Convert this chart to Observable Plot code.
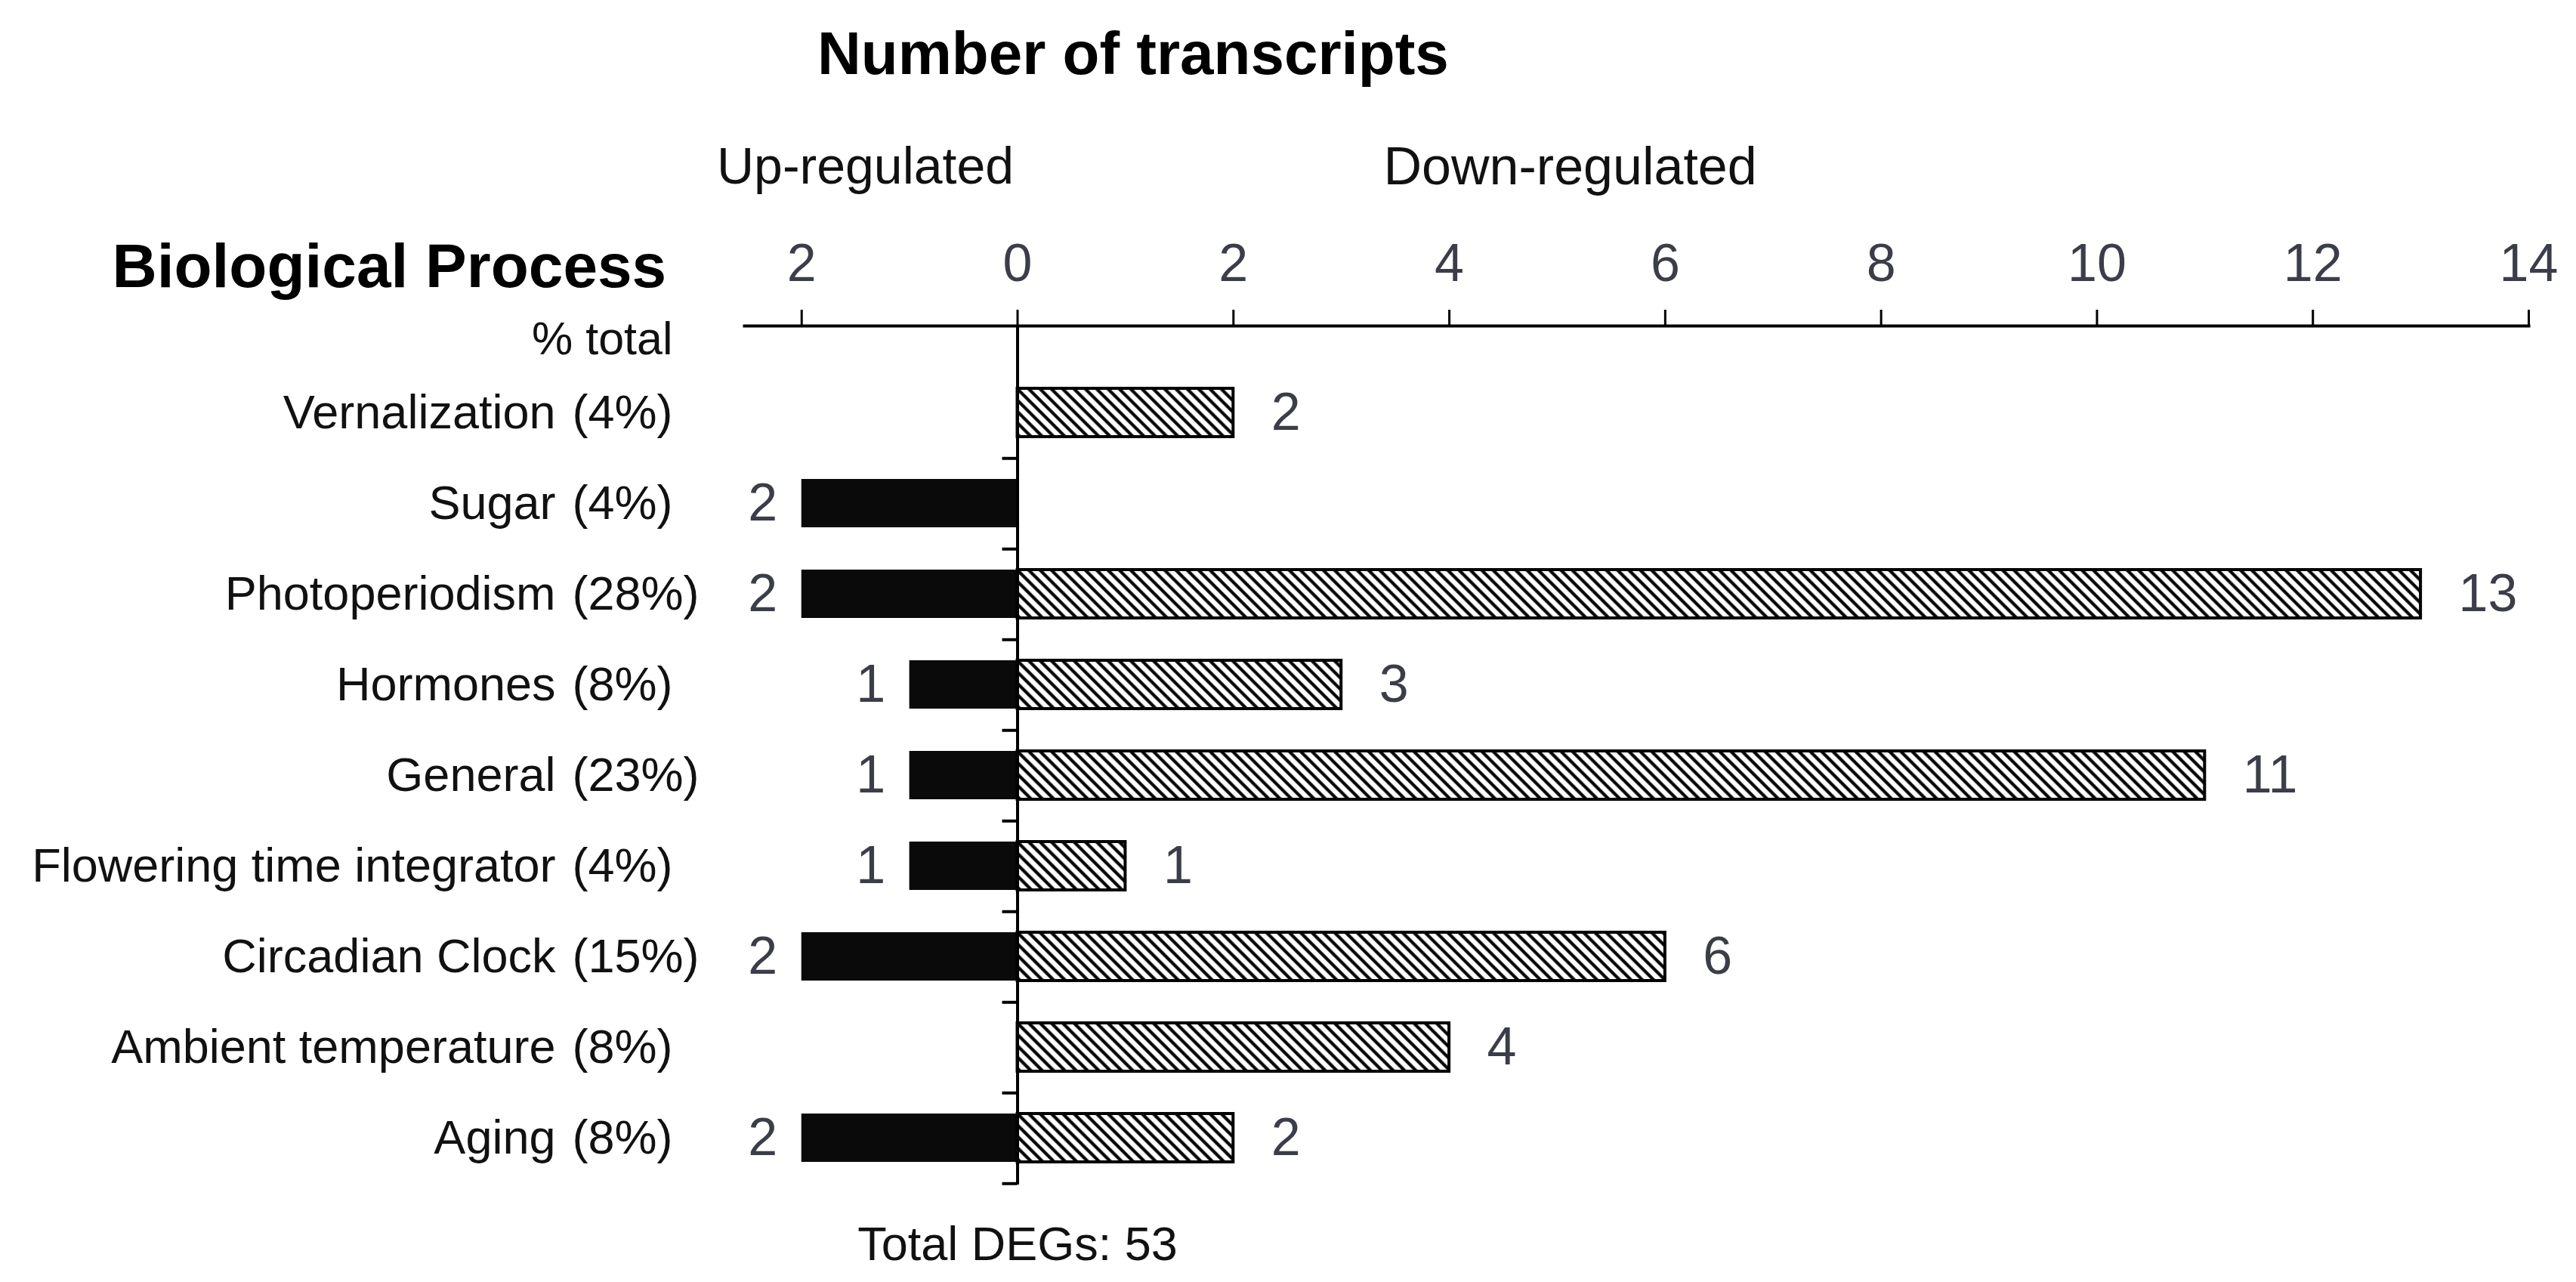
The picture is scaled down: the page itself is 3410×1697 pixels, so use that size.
<!DOCTYPE html>
<html>
<head>
<meta charset="utf-8">
<script src="https://cdn.jsdelivr.net/npm/d3@7"></script>
<script src="https://cdn.jsdelivr.net/npm/@observablehq/plot@0.6"></script>
<style>
  html, body { margin: 0; padding: 0; background: #fff; }
</style>
</head>
<body>
<div id="chart"></div>
<script>
// ---- Data ----
const categories = [
  "Vernalization",
  "Sugar",
  "Photoperiodism",
  "Hormones",
  "General",
  "Flowering time integrator",
  "Circadian Clock",
  "Ambient temperature",
  "Aging"
];
const upRegulated   = [0, 2, 2, 1, 1, 1, 2, 0, 2];
const downRegulated = [2, 0, 13, 3, 11, 1, 6, 4, 2];
const xTicks = [-2, 0, 2, 4, 6, 8, 10, 12, 14];

// ---- Derived table ----
const total = d3.sum(upRegulated) + d3.sum(downRegulated);
const rows = categories.map((c, i) => ({
  category: c,
  up: upRegulated[i],
  down: downRegulated[i],
  pct: `(${Math.round(100 * (upRegulated[i] + downRegulated[i]) / total)}%)`
}));

// ---- Layout ----
const W = 3410, H = 1697;
const mL = 985, mR = 63, mT = 431, mB = 129, bandTop = 483;
const step = (H - mB - bandTop) / categories.length;
const gray = "#3b3d48";
const font = "'Liberation Sans', Arial, Helvetica, sans-serif";

function hatchDefs() {
  const s = 10.6;
  const g = d3.create("svg:g");
  const p = g.append("defs").append("pattern")
    .attr("id", "hatch")
    .attr("patternUnits", "userSpaceOnUse")
    .attr("width", s).attr("height", s)
    .attr("patternTransform", "rotate(-45)");
  p.append("rect").attr("width", s).attr("height", s).attr("fill", "white");
  p.append("line").attr("x1", s / 2).attr("x2", s / 2).attr("y1", -1).attr("y2", s + 1)
    .attr("stroke", "black").attr("stroke-width", 4.2);
  return g.node();
}

const chart = Plot.plot({
  width: W,
  height: H,
  marginLeft: mL,
  marginRight: mR,
  marginTop: mT,
  marginBottom: mB,
  style: { fontFamily: font, background: "white", color: "black", overflow: "visible" },
  x: { domain: [-2.53, 14] },
  y: { domain: categories, range: [bandTop, H - mB], padding: 0, axis: null },
  marks: [
    hatchDefs,
    Plot.barX(rows.filter(d => d.up > 0), {
      x1: 0, x2: d => -d.up, y: "category",
      fill: "#0a0a0a", insetTop: 28, insetBottom: 28
    }),
    Plot.barX(rows.filter(d => d.down > 0), {
      x1: 0, x2: "down", y: "category",
      fill: "url(#hatch)", stroke: "black", strokeWidth: 4, insetTop: 28, insetBottom: 28
    }),
    Plot.frame({ anchor: "top", strokeWidth: 4 }),
    Plot.axisX({
      anchor: "top", ticks: xTicks, tickFormat: d => String(Math.abs(d)),
      tickSize: 22, tickPadding: 38, strokeWidth: 3, stroke: "black",
      fill: gray, fontSize: 70, label: null
    }),
    Plot.ruleX([0], { strokeWidth: 4 }),
    Plot.ruleY(categories, { y: d => d, x1: 0, x2: 0, insetLeft: -20, dy: step / 2, strokeWidth: 4 }),
    // value labels
    Plot.text(rows.filter(d => d.down > 0), {
      x: "down", y: "category", text: d => String(d.down),
      textAnchor: "start", lineAnchor: "middle", dx: 50, fontSize: 70, fill: gray
    }),
    Plot.text(rows.filter(d => d.up > 0), {
      x: d => -d.up, y: "category", text: d => String(d.up),
      textAnchor: "end", lineAnchor: "middle", dx: -32, fontSize: 70, fill: gray
    }),
    // category labels and percentages
    Plot.text(rows, {
      y: "category", text: "category", frameAnchor: "left", lineAnchor: "middle",
      textAnchor: "end", dx: -250, fontSize: 63, fill: "#111"
    }),
    Plot.text(rows, {
      y: "category", text: "pct", frameAnchor: "left", lineAnchor: "middle",
      textAnchor: "start", dx: -228, fontSize: 63, fill: "#111"
    }),
    // headings
    Plot.text(["Number of transcripts"], {
      x: () => 1.07, text: d => d, frameAnchor: "top", lineAnchor: "middle", dy: -359,
      fontSize: 80, fontWeight: "bold", fill: "#000"
    }),
    Plot.text(["Up-regulated"], {
      x: () => -1.41, text: d => d, frameAnchor: "top", lineAnchor: "middle", dy: -210,
      fontSize: 68, fill: "#111"
    }),
    Plot.text(["Down-regulated"], {
      x: () => 5.12, text: d => d, frameAnchor: "top", lineAnchor: "middle", dy: -210,
      fontSize: 70, fill: "#111"
    }),
    Plot.text(["Biological Process"], {
      text: d => d, frameAnchor: "top-left", textAnchor: "start", lineAnchor: "middle",
      dx: -837, dy: -78, fontSize: 82, fontWeight: "bold", fill: "#000"
    }),
    Plot.text(["% total"], {
      text: d => d, frameAnchor: "top-left", textAnchor: "end", lineAnchor: "middle",
      dx: -95, dy: 18, fontSize: 61, fill: "#111"
    }),
    Plot.text([`Total DEGs: ${total}`], {
      x: () => 0, text: d => d, frameAnchor: "bottom", lineAnchor: "middle", dy: 79,
      fontSize: 63, fill: "#111"
    })
  ]
});

document.getElementById("chart").appendChild(chart);
</script>
</body>
</html>
